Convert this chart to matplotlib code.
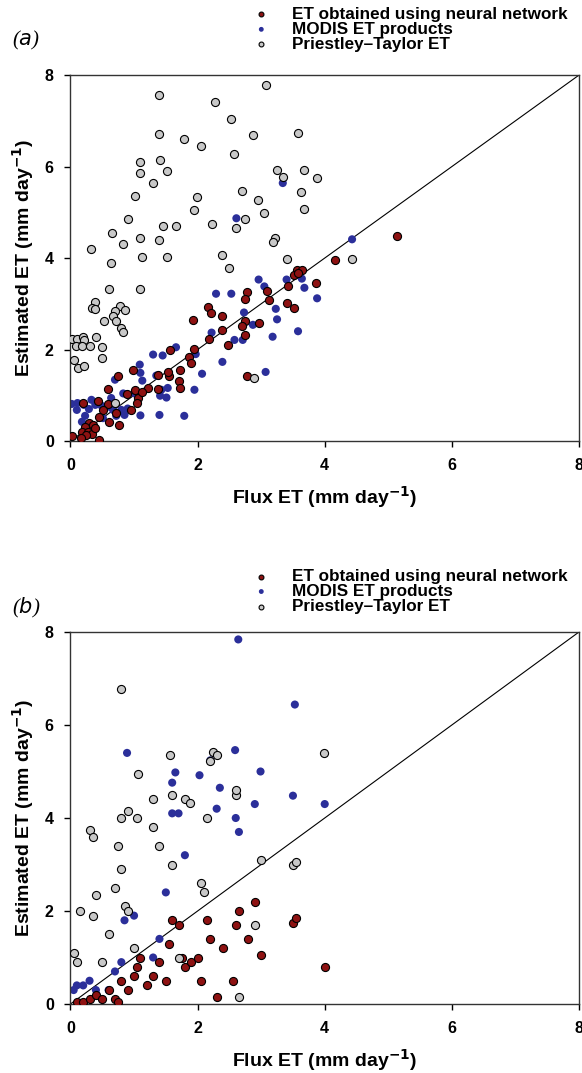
import numpy as np
import matplotlib
matplotlib.use('Agg')
from matplotlib import pyplot as plt

plt.rcParams['font.family'] = ['Liberation Sans', 'DejaVu Sans']

# ---------------- panel (a) ----------------
a_nn_x = [5.13, 4.16, 3.56, 3.64, 3.52, 3.58, 3.86, 3.09, 3.42, 3.12, 3.41, 3.52, 2.96,
          2.77, 2.74, 2.17, 2.21, 2.38, 1.93, 2.75, 2.70, 2.38, 2.75, 2.18, 2.48, 1.95,
          1.57, 1.86, 1.90, 0.98, 1.73, 0.75, 1.38, 1.55, 1.54, 2.77, 1.71, 1.72, 0.59,
          1.02, 1.22, 1.38, 0.89, 0.43, 0.19, 1.07, 1.12, 1.05, 0.59, 0.96, 0.51, 0.71,
          0.45, 0.60, 0.77, 0.29, 0.36, 0.23, 0.18, 0.27, 0.34, 0.24, 0.02, 0.16, 0.45, 0.39]
a_nn_y = [4.48, 3.95, 3.73, 3.73, 3.63, 3.68, 3.45, 3.27, 3.38, 3.09, 3.02, 2.91, 2.57,
          3.26, 3.11, 2.93, 2.79, 2.74, 2.65, 2.62, 2.52, 2.43, 2.32, 2.24, 2.09, 2.02,
          1.98, 1.83, 1.70, 1.55, 1.56, 1.43, 1.44, 1.43, 1.50, 1.43, 1.32, 1.16, 1.13,
          1.12, 1.16, 1.13, 1.03, 0.88, 0.84, 0.93, 1.08, 0.83, 0.80, 0.68, 0.68, 0.62,
          0.53, 0.42, 0.35, 0.39, 0.35, 0.31, 0.20, 0.19, 0.15, 0.13, 0.11, 0.07, 0.02, 0.29]

a_modis_x = [2.61, 3.34, 4.43, 2.96, 2.29, 2.53, 2.73, 2.22, 2.87, 2.58, 2.71, 1.66, 1.30,
             1.45, 1.97, 2.39, 1.09, 1.10, 0.70, 1.13, 1.35, 2.07, 1.43, 1.53, 0.83, 1.01,
             1.41, 1.51, 1.95, 0.64, 0.02, 0.11, 0.21, 0.33, 0.39, 0.49, 0.10, 0.29, 0.61,
             0.67, 0.80, 0.90, 0.23, 0.51, 0.72, 0.85, 1.10, 1.40, 1.79, 0.18, 3.05, 3.40,
             3.64, 3.68, 3.88, 3.23, 3.25, 3.18, 3.58, 3.07]
a_modis_y = [4.87, 5.64, 4.41, 3.53, 3.22, 3.22, 2.81, 2.37, 2.54, 2.21, 2.21, 2.05, 1.89,
             1.87, 1.90, 1.73, 1.67, 1.49, 1.34, 1.32, 1.43, 1.47, 1.12, 1.16, 1.04, 1.04,
             0.99, 0.95, 1.12, 0.94, 0.81, 0.83, 0.79, 0.90, 0.79, 0.77, 0.68, 0.70, 0.75,
             0.68, 0.68, 0.71, 0.55, 0.50, 0.55, 0.57, 0.56, 0.57, 0.55, 0.42, 3.38, 3.53,
             3.55, 3.35, 3.12, 2.89, 2.66, 2.28, 2.40, 1.51]

a_pt_x = [1.40, 2.28, 2.53, 2.87, 1.40, 1.79, 2.06, 2.58, 1.10, 1.41, 1.10, 1.52, 1.30,
          1.01, 1.99, 2.70, 2.95, 1.94, 2.75, 2.61, 0.90, 1.45, 1.66, 2.22, 0.66, 0.83,
          1.10, 1.40, 0.32, 1.13, 1.52, 2.39, 3.07, 3.58, 3.25, 3.34, 3.68, 3.88, 3.63,
          3.05, 3.68, 3.22, 3.18, 3.40, 4.43, 0.64, 2.49, 0.60, 1.09, 0.39, 0.34, 0.39,
          0.78, 0.70, 0.86, 0.67, 0.72, 0.53, 0.79, 0.82, 0.02, 0.11, 0.19, 0.21, 0.40,
          0.09, 0.18, 0.30, 0.50, 0.50, 0.05, 0.12, 0.22, 2.88, 0.70]
a_pt_y = [7.57, 7.42, 7.05, 6.70, 6.72, 6.60, 6.46, 6.28, 6.10, 6.14, 5.85, 5.91, 5.64,
          5.35, 5.34, 5.47, 5.26, 5.04, 4.85, 4.66, 4.86, 4.70, 4.69, 4.74, 4.55, 4.30,
          4.43, 4.39, 4.20, 4.02, 4.02, 4.06, 7.79, 6.73, 5.93, 5.78, 5.93, 5.75, 5.44,
          4.98, 5.08, 4.43, 4.36, 3.98, 3.98, 3.90, 3.79, 3.33, 3.33, 3.05, 2.91, 2.89,
          2.95, 2.84, 2.87, 2.73, 2.63, 2.62, 2.46, 2.39, 2.23, 2.23, 2.27, 2.20, 2.27,
          2.07, 2.08, 2.08, 2.05, 1.81, 1.78, 1.59, 1.63, 1.37, 0.83]

# ---------------- panel (b) ----------------
b_nn_x = [0.10, 0.20, 0.30, 0.40, 0.50, 0.60, 0.70, 0.75, 0.80, 0.90, 1.00, 1.05, 1.10,
          1.20, 1.30, 1.40, 1.50, 1.55, 1.60, 1.70, 1.75, 1.80, 1.90, 2.00, 2.05, 2.15,
          2.20, 2.30, 2.40, 2.55, 2.60, 2.65, 2.80, 2.90, 3.00, 3.50, 3.55, 4.00]
b_nn_y = [0.05, 0.05, 0.10, 0.20, 0.10, 0.30, 0.10, 0.05, 0.50, 0.30, 0.60, 0.80, 1.00,
          0.40, 0.60, 0.90, 0.50, 1.30, 1.80, 1.70, 1.00, 0.80, 0.90, 1.00, 0.50, 1.80,
          1.40, 0.15, 1.20, 0.50, 1.70, 2.00, 1.40, 2.20, 1.05, 1.75, 1.85, 0.80]

b_modis_x = [0.05, 0.10, 0.20, 0.30, 0.40, 0.50, 0.60, 0.70, 0.80, 0.85, 0.89, 1.00, 1.30,
             1.40, 1.50, 1.60, 1.65, 1.70, 1.80, 1.60, 2.03, 2.20, 2.30, 2.35, 2.59, 2.60,
             2.64, 2.65, 2.90, 2.99, 3.50, 3.53, 4.00]
b_modis_y = [0.30, 0.40, 0.40, 0.50, 0.30, 0.10, 0.30, 0.70, 0.90, 1.80, 5.40, 1.90, 1.00,
             1.40, 2.40, 4.10, 4.98, 4.10, 3.20, 4.76, 4.92, 5.24, 4.20, 4.65, 5.46, 4.00,
             7.84, 3.70, 4.30, 5.00, 4.48, 6.44, 4.30]

b_pt_x = [0.05, 0.10, 0.15, 0.30, 0.35, 0.35, 0.40, 0.50, 0.60, 0.70, 0.75, 0.80, 0.80,
          0.80, 0.85, 0.90, 0.90, 1.00, 1.05, 1.07, 1.30, 1.40, 1.57, 1.60, 1.60, 1.70,
          1.80, 1.88, 2.05, 2.10, 2.15, 2.25, 2.31, 2.20, 2.60, 2.60, 2.65, 2.90, 3.00,
          3.50, 3.55, 3.99, 1.30]
b_pt_y = [1.10, 0.90, 2.00, 3.75, 3.60, 1.90, 2.35, 0.90, 1.50, 2.50, 3.40, 6.77, 4.00,
          2.90, 2.10, 2.00, 4.15, 1.20, 4.00, 4.95, 3.80, 3.40, 5.36, 3.00, 4.50, 1.00,
          4.40, 4.32, 2.60, 2.40, 4.00, 5.42, 5.36, 5.22, 4.50, 4.60, 0.15, 1.70, 3.10,
          3.00, 3.05, 5.40, 4.40]

ticks = [0, 2, 4, 6, 8]
red = '#8e1212'
blue = '#2b2f9a'
gray = '#c8c8c8'
labels = ['ET obtained using neural network', 'MODIS ET products', 'Priestley\u2013Taylor ET']


def draw_panel(ax, nn, modis, pt, tag, tag_y, leg_y):
    ax.plot([0, 8], [0, 8], color='black', lw=0.8, zorder=1)
    h_modis = ax.scatter(modis[0], modis[1], s=34, c=blue, edgecolors='none', zorder=2)
    h_nn = ax.scatter(nn[0], nn[1], s=34, c=red, edgecolors='black', linewidths=0.8, zorder=3)
    h_pt = ax.scatter(pt[0], pt[1], s=34, c=gray, edgecolors='black', linewidths=0.8, zorder=4)
    ax.set_xlim(0, 8)
    ax.set_ylim(0, 8)
    ax.set_xticks(ticks)
    ax.set_yticks(ticks)
    ax.tick_params(direction='out', length=4, width=1, labelsize=11.5, pad=8)
    for lab in ax.get_xticklabels() + ax.get_yticklabels():
        lab.set_fontweight('bold')
    for sp in ax.spines.values():
        sp.set_linewidth(1.0)
        sp.set_color('#333333')
    ax.set_xlabel('Flux ET (mm day$^{\\mathbf{-1}}$)', fontsize=14, fontweight='bold', labelpad=8)
    ax.set_ylabel('Estimated ET (mm day$^{\\mathbf{-1}}$)', fontsize=14, fontweight='bold', labelpad=6)
    leg = ax.legend([h_nn, h_modis, h_pt], labels, loc='lower left',
                    bbox_to_anchor=(0.345, leg_y), frameon=False, fontsize=12.3,
                    markerscale=0.6, handletextpad=1.3, labelspacing=0.0,
                    borderaxespad=0.3, handlelength=1.0, borderpad=0.1)
    for t in leg.get_texts():
        t.set_fontweight('bold')
    ax.text(-0.115, tag_y, tag, transform=ax.transAxes, fontsize=15,
            family=['Liberation Serif', 'DejaVu Serif'], style='italic', va='center')


fig = plt.figure(figsize=(5.82, 10.73), dpi=100)
ax1 = fig.add_axes([0.1211, 0.589, 0.8737, 0.341])
ax2 = fig.add_axes([0.1211, 0.0643, 0.8737, 0.3467])
draw_panel(ax1, (a_nn_x, a_nn_y), (a_modis_x, a_modis_y), (a_pt_x, a_pt_y), '($a$)', 1.095, 1.045)
draw_panel(ax2, (b_nn_x, b_nn_y), (b_modis_x, b_modis_y), (b_pt_x, b_pt_y), '($b$)', 1.065, 1.03)

fig.savefig('out.png', dpi=100)
